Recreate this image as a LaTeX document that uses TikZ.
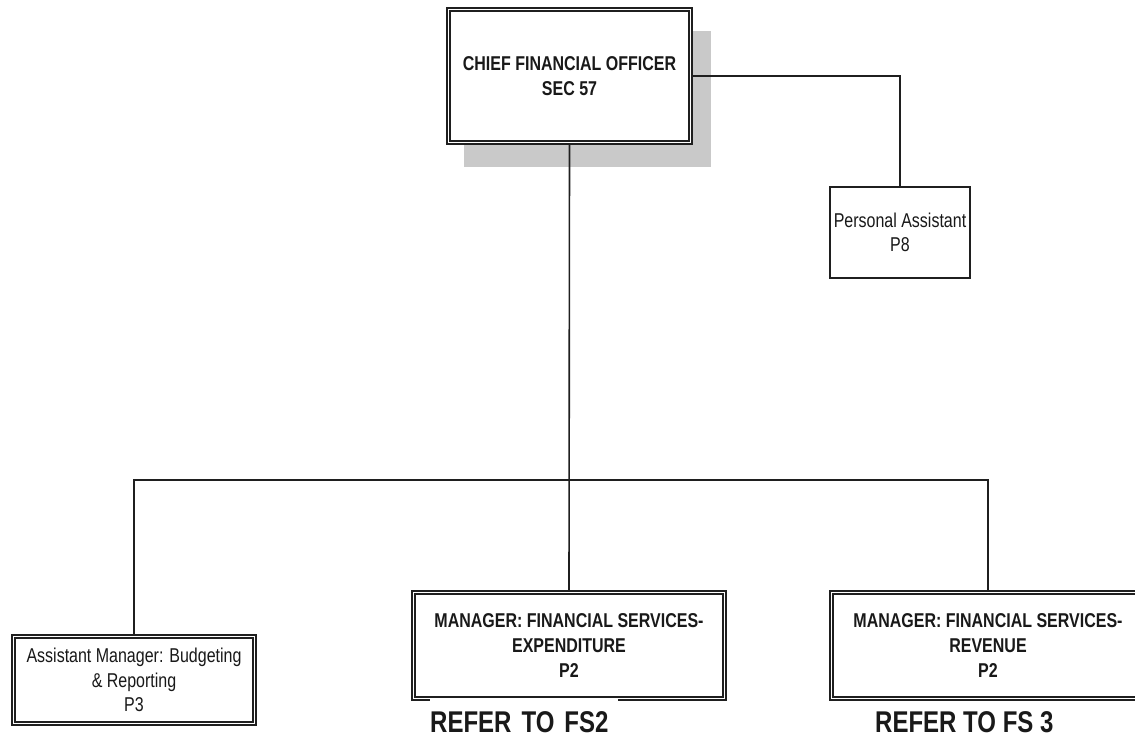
\documentclass[tikz,border=0pt]{standalone}
\usepackage{fontspec}
\newfontfamily\narrowsans[FakeStretch=0.8]{Liberation Sans}
\begin{document}
\begin{tikzpicture}[x=1pt,y=-1pt,
  frame/.style={draw=black!88, line width=2pt, fill=white, inner sep=0pt, align=center, text=black!90},
  innerframe/.style={draw=black!88, line width=1.2pt},
  boldtxt/.style={font=\narrowsans\bfseries\fontsize{20}{25}\selectfont},
  plaintxt/.style={font=\narrowsans\fontsize{20}{24.5}\selectfont},
  reftxt/.style={font=\narrowsans\bfseries\fontsize{30}{36}\selectfont, text=black!90, inner sep=0pt, anchor=base west},
  link/.style={draw=black!88, line width=1.6pt}]
\useasboundingbox (0,0) rectangle (1135,741);
\clip (0,0) rectangle (1135,741);

% drop shadow behind the CFO box
\fill[black!21] (464,31) rectangle (711,167);

% boxes
\node[frame, boldtxt, minimum width=245pt, minimum height=136pt] (cfo) at (569.5,76)
  {CHIEF FINANCIAL OFFICER\\SEC 57};
\node[frame, plaintxt, line width=1.6pt, minimum width=140pt, minimum height=91pt] (pa) at (900,232.5)
  {Personal Assistant\\P8};
\node[frame, plaintxt, minimum width=244pt, minimum height=90pt] (asst) at (134,680)
  {Assistant Manager: Budgeting\\\& Reporting\\P3};
\node[frame, boldtxt, minimum width=314pt, minimum height=109pt] (mexp) at (569,645.5)
  {MANAGER: FINANCIAL SERVICES-\\EXPENDITURE\\P2};
\node[frame, boldtxt, minimum width=316pt, minimum height=109pt] (mrev) at (988,645.5)
  {MANAGER: FINANCIAL SERVICES-\\REVENUE\\P2};

% second, inner rule of the double-framed boxes
\foreach \n in {cfo,asst,mexp,mrev}
  \draw[innerframe] ([xshift=4pt,yshift=4pt]\n.south west) rectangle ([xshift=-4pt,yshift=-4pt]\n.north east);

% reporting lines
\coordinate (bus) at (569.5,480);
\draw[link] (cfo.east) -| (pa.north);
\draw[link] (cfo.south) -- (mexp.north);
\draw[link] (asst.north) |- (mrev.north |- bus) -- (mrev.north);

% cross-references
\node[reftxt, fill=white, text height=34.5pt, text depth=2pt, text width=188pt, align=left] (ref2) at (430,732) {REFER TO FS2};
\node[reftxt] (ref3) at (875,732) {REFER TO FS 3};
\end{tikzpicture}
\end{document}
